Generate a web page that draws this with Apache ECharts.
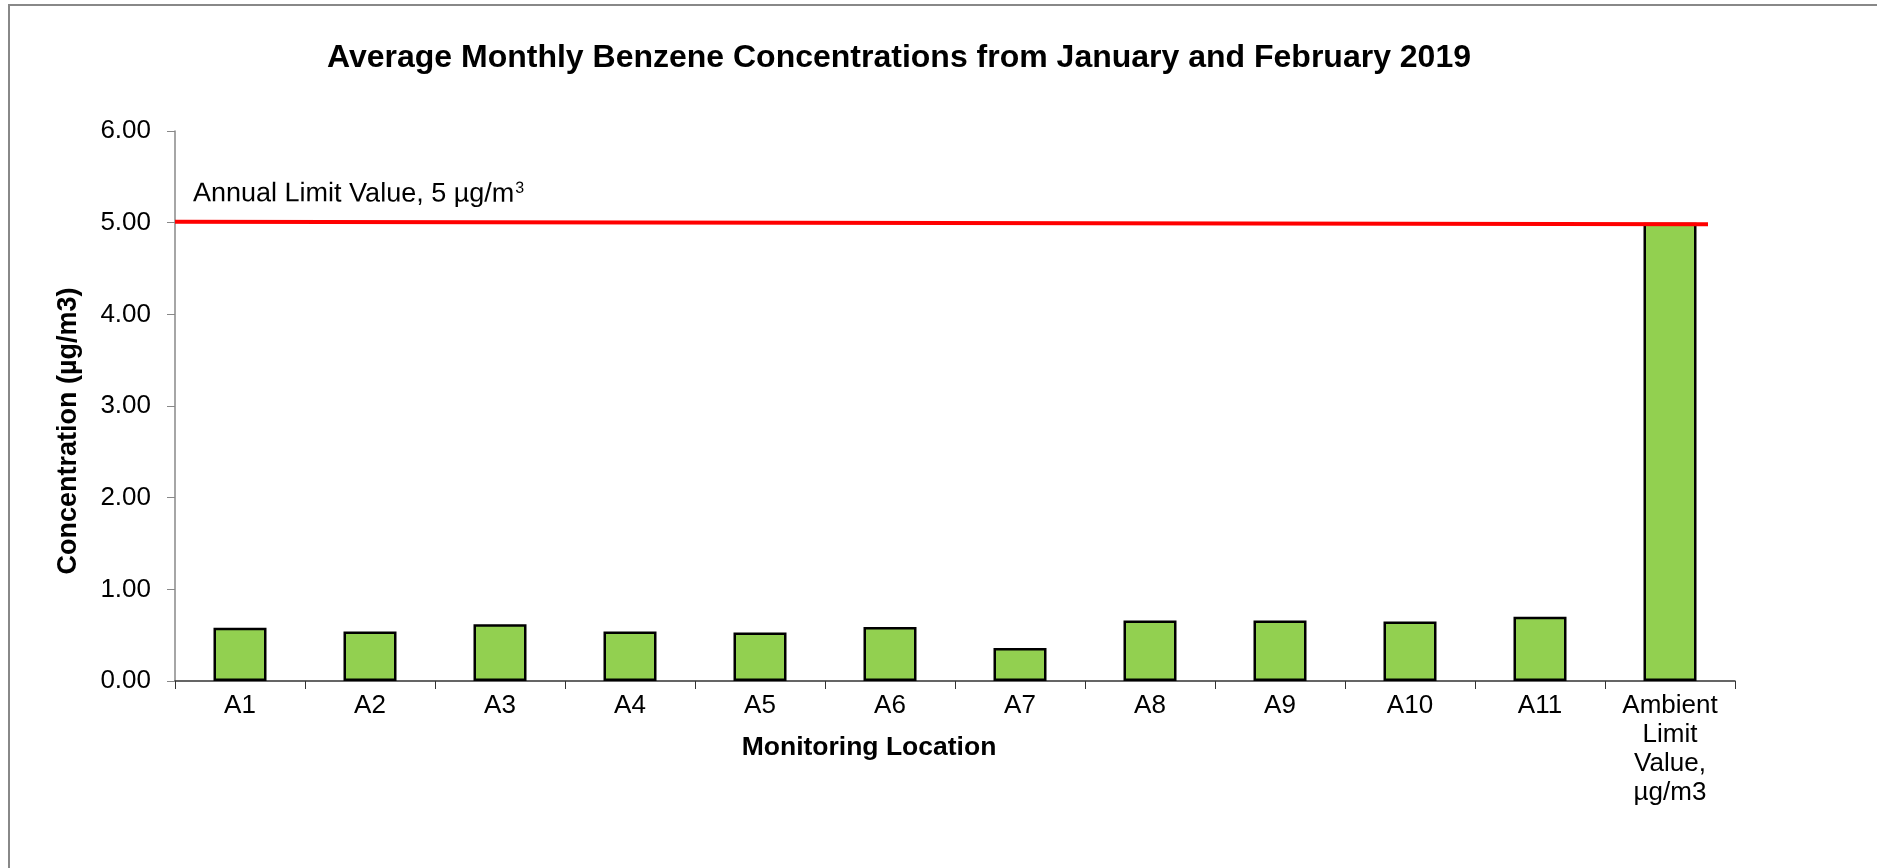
<!DOCTYPE html>
<html>
<head>
<meta charset="utf-8">
<title>Benzene</title>
<script src="https://cdn.jsdelivr.net/npm/echarts@6/dist/echarts.min.js"></script>
<style>
  html, body { margin: 0; padding: 0; background: #fff; }
  #chart { width: 1877px; height: 868px; }
</style>
</head>
<body>
<div id="chart"></div>
<script>
'use strict';

// monitoring locations
var locations = ['A1', 'A2', 'A3', 'A4', 'A5', 'A6', 'A7', 'A8', 'A9', 'A10', 'A11', 'Ambient\nLimit\nValue,\nµg/m3'];
// average concentration, µg/m3
var concentrations = [0.58, 0.54, 0.62, 0.54, 0.53, 0.59, 0.36, 0.66, 0.66, 0.65, 0.70, 5.00];
var yTicks = [0, 1, 2, 3, 4, 5, 6];
var limitValue = 5;

var font = 'Liberation Sans, Arial, sans-serif';
var chart = echarts.init(document.getElementById('chart'));

var option = {
    animation: false,
    backgroundColor: '#fff',
    title: [{
        text: 'Average Monthly Benzene Concentrations from January and February 2019',
        left: 894,
        top: 37,
        textAlign: 'center',
        textStyle: { fontFamily: font, fontSize: 32, fontWeight: 'bold', color: '#000' }
    }, {
        text: 'Monitoring Location',
        left: 864,
        top: 729,
        textAlign: 'center',
        textStyle: { fontFamily: font, fontSize: 26.5, fontWeight: 'bold', color: '#000' }
    }],
    graphic: [{
        type: 'rect',
        shape: { x: 9, y: 5, width: 1920, height: 900 },
        style: { fill: null, stroke: '#888', lineWidth: 2 },
        silent: true
    }],
    grid: { left: 175, right: 142, top: 131, bottom: 187 },
    xAxis: {
        type: 'category',
        data: locations,
        axisLine: { lineStyle: { color: '#333', width: 1.5 } },
        axisTick: { show: true, length: 8, lineStyle: { color: '#333' } },
        axisLabel: {
            interval: 0,
            margin: 10,
            fontFamily: font,
            fontSize: 26,
            lineHeight: 29,
            color: '#000'
        }
    },
    yAxis: {
        type: 'value',
        min: yTicks[0],
        max: yTicks[yTicks.length - 1],
        interval: 1,
        name: 'Concentration (µg/m3)',
        nameLocation: 'middle',
        nameGap: 93,
        nameTextStyle: {
            fontFamily: font, fontSize: 27, fontWeight: 'bold', color: '#000',
            padding: [0, 50, 0, 0]
        },
        axisLine: { show: true, lineStyle: { color: '#888', width: 1.5 } },
        axisTick: { show: true, length: 8, lineStyle: { color: '#888' } },
        splitLine: { show: false },
        axisLabel: {
            margin: 24,
            fontFamily: font,
            fontSize: 26,
            color: '#000',
            formatter: function (v) { return v.toFixed(2); }
        }
    },
    series: [{
        type: 'bar',
        data: concentrations,
        barWidth: 53,
        itemStyle: { color: '#92d050', borderColor: '#000', borderWidth: 2.5 },
        markLine: {
            silent: true,
            symbol: 'none',
            data: [{ yAxis: limitValue }],
            lineStyle: { color: '#ff0000', width: 4, type: 'solid' },
            label: {
                show: true,
                position: 'insideStartTop',
                distance: [18, 14],
                formatter: 'Annual Limit Value, 5 µg/m{sup|3}',
                fontFamily: font,
                fontSize: 27,
                color: '#000',
                rich: {
                    sup: { fontFamily: font, fontSize: 16, color: '#000', verticalAlign: 'top', padding: [0, 0, 12, 1] }
                }
            }
        }
    }]
};

chart.setOption(option);

// the limit line stops short of the axis end, like the drawn line in the original
var yL = chart.convertToPixel({ yAxisIndex: 0 }, limitValue);
chart.setOption({
    series: [{
        markLine: {
            data: [[{ x: 175, y: yL - 1 }, { x: 1708, y: yL + 1.5 }]]
        }
    }]
});
</script>
</body>
</html>
